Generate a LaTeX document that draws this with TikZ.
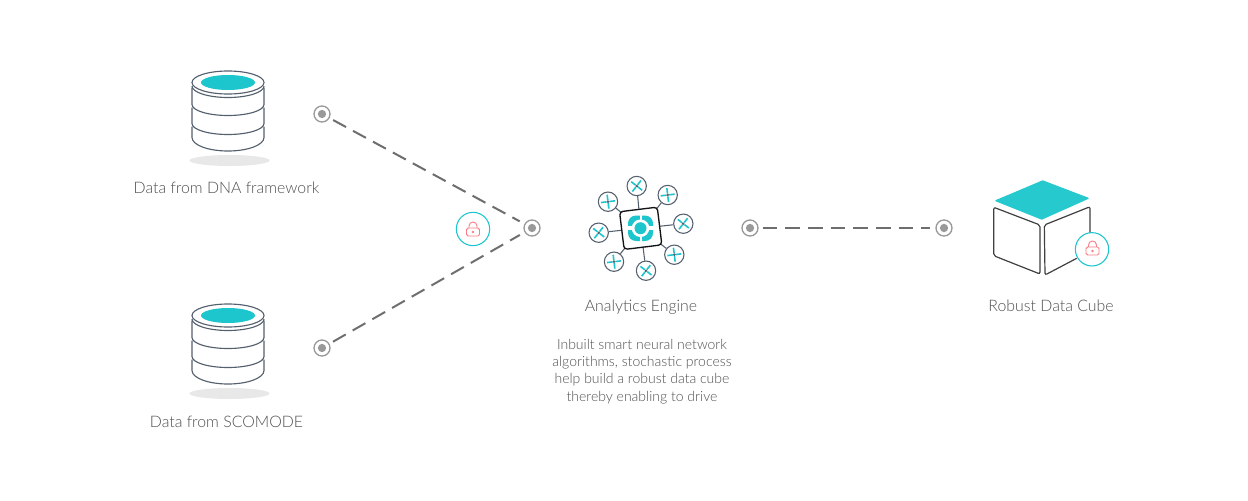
\documentclass[tikz,border=0pt]{standalone}
\usepackage{fontspec}
\setmainfont{Lato Light}
\definecolor{teal1}{HTML}{1CC6CC}
\definecolor{teal2}{HTML}{26C9CE}
\definecolor{slate}{HTML}{55606E}
\definecolor{dotgray}{HTML}{999999}
\definecolor{dashgray}{HTML}{6E6E6E}
\definecolor{txt}{HTML}{505050}
\definecolor{lockred}{HTML}{FA7F86}
\tikzset{
  px/.style={x=0.75pt,y=-0.75pt},
  dbline/.style={draw=slate,line width=0.85pt,line join=round},
  label/.style={text=txt,font=\fontsize{11.9pt}{15pt}\selectfont,inner sep=0pt,anchor=base},
  para/.style={text=txt,font=\fontsize{10.5pt}{12.9pt}\selectfont,inner sep=0pt,align=center},
  portdot/.style={circle,draw=dotgray,line width=1pt,fill=white,minimum size=12pt,inner sep=0pt,
    path picture={\fill[dotgray] (path picture bounding box.center) circle[radius=3.1pt];}},
  dashlink/.style={draw=dashgray,line width=1.5pt,dash pattern=on 11pt off 6pt,shorten >=4pt,shorten <=3pt},
  lockring/.style={circle,draw=teal1,line width=0.8pt,fill=white,minimum size=25pt,inner sep=0pt},
  sat/.style={circle,draw=slate,line width=0.8pt,fill=white,minimum size=14.5pt,inner sep=0pt},
  spoke/.style={draw=slate,line width=0.8pt},
  db/.pic={
    \fill[black!9] (1.5,78) ellipse[x radius=40,y radius=5.5];
    \path[dbline,fill=white] (-36,44) -- (-36,55) arc[start angle=180,end angle=0,x radius=36,y radius=13.5] -- (36,44);
    \path[dbline,fill=white] (-36,25) -- (-36,41) arc[start angle=180,end angle=0,x radius=36,y radius=11] -- (36,25);
    \path[dbline,fill=white] (-36,5) -- (-36,22) arc[start angle=180,end angle=0,x radius=36,y radius=11] -- (36,5);
    \path[dbline,fill=white] (0,0) ellipse[x radius=36,y radius=11.5];
    \draw[dbline] (-36,3.5) arc[start angle=180,end angle=0,x radius=36,y radius=11.5];
    \fill[teal1] (0,0) ellipse[x radius=27,y radius=7.5];
  },
  lockicon/.pic={
    \draw[lockred,line width=0.7pt] (-4,-4) -- (-4,-6) arc[start angle=180,end angle=360,radius=4] -- (4,-4);
    \draw[lockred,line width=0.7pt,rounded corners=1.2pt,fill=white] (-6.5,-4) rectangle (6.5,4);
    \fill[lockred] (0,0) circle[radius=1.3];
  },
  crossicon/.pic={
    \foreach \a in {0,90,180,270} \draw[teal1,line width=1.2pt,rotate=\a] (1.5,0) -- (7,0);
    \fill[slate] (0,0) circle[radius=1.5];
  }
}
\begin{document}
\begin{tikzpicture}[px]
\useasboundingbox[fill=white] (0,0) rectangle (1248,500);

% databases
\pic at (228,82.5) {db};
\pic at (228,315.5) {db};
\node[label] (dna) at (226.5,193.5) {Data from DNA framework};
\node[label] (sco) at (226.5,427.5) {Data from SCOMODE};

% ports
\node[portdot] (p1) at (322,114) {};
\node[portdot] (p2) at (322,348) {};
\node[portdot] (p3) at (532,228) {};
\node[portdot] (p4) at (750,228) {};
\node[portdot] (p5) at (944,228) {};
\draw[dashlink] (p1) -- (p3);
\draw[dashlink] (p2) -- (p3);
\draw[dashlink] (p4) -- (p5);

% lock on the links
\node[lockring] (lockA) at (473,229) {};
\pic at (473,232) {lockicon};

% engine
\node[draw=none,minimum size=1pt,inner sep=0pt] (hub) at (640.7,228.3) {};
\foreach \n/\x/\y/\r in {a/636.7/186/52,b/667.7/195/7,c/683.3/223.7/52,d/674.3/254.7/7,e/646/270.7/52,f/614/261.7/7,g/598.7/232.7/52,h/608/201.7/7}{
  \node[sat] (s\n) at (\x,\y) {};
  \draw[spoke] (hub) -- (s\n);
  \pic[rotate=\r] at (\x,\y) {crossicon};
}
\draw[black!80!slate,line width=1pt,fill=white,rounded corners=2.5pt,rotate around={7:(640.7,228.3)}]
  (621.7,209.3) rectangle (659.7,247.3);
\fill[teal1,rounded corners=6pt] (628,215.5) rectangle (653,241);
\fill[white] (640.5,228.2) circle[radius=8.8];
\fill[white] (639.5,213) rectangle (641.5,244);
\fill[white] (626,226.2) rectangle (655,230.2);
\fill[teal1] (640.5,228.2) circle[radius=6];
\node[label] (eng) at (641,311.5) {Analytics Engine};
\node[para] (desc) at (642,371.5) {Inbuilt smart neural network\\algorithms, stochastic process\\help build a robust data cube\\thereby enabling to drive};

% cube
\fill[teal2,draw=teal2,line width=1pt,line join=round] (1042.7,181) -- (1088,198.3) -- (1041.7,219) -- (996,200.7) -- cycle;
\draw[black!75,line width=0.9pt,rounded corners=1.5pt] (993.7,207.3) -- (1040,225) -- (1040,274) -- (993.7,255.7) -- cycle;
\draw[black!75,line width=0.9pt,rounded corners=1.5pt] (1076.7,258.3) -- (1045,275) -- (1044.3,225) -- (1090,206.7) -- (1090,238);
\node[lockring] (lockB) at (1092,249.3) {};
\pic at (1092.5,251) {lockicon};
\node[label] (cube) at (1051,311.5) {Robust Data Cube};
\end{tikzpicture}
\end{document}
